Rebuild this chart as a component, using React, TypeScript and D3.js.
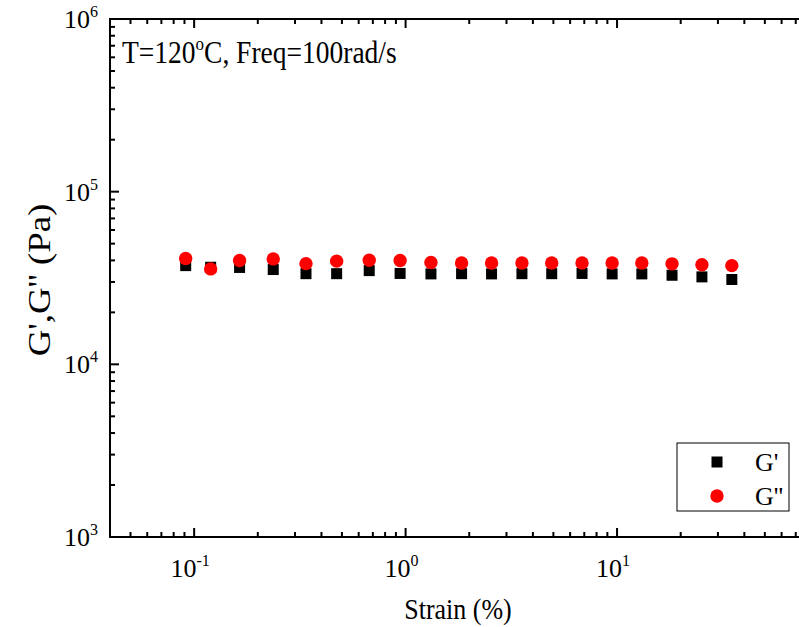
import React from "react";
import * as d3 from "d3";

const strain = [0.0912, 0.1197, 0.164, 0.2366, 0.338, 0.472, 0.673, 0.942, 1.318, 1.84, 2.55, 3.55, 4.91, 6.83, 9.48, 13.1, 18.2, 25.2, 34.9];
const gPrime = [37300, 36500, 36400, 35400, 33500, 33500, 34900, 33600, 33400, 33500, 33400, 33500, 33500, 33600, 33400, 33400, 32800, 32100, 31000];
const gDouble = [41000, 35700, 39900, 40800, 38300, 39600, 40100, 39900, 38900, 38600, 38600, 38600, 38600, 38600, 38600, 38600, 38200, 37700, 37300];
const xMajor = [0.1, 1, 10];
const xExp = ["-1", "0", "1"];
const yMajor = [1e3, 1e4, 1e5, 1e6];
const yExp = ["3", "4", "5", "6"];
const seriesNames = ["G'", "G''"];

const W = 799, H = 627;
const L = 110, T = 19, R = 808, B = 537;
const FONT = "Liberation Serif";
const ts = { fontFamily: FONT };
const STRETCH = 1.15;

export default function App() {
  const x = d3.scaleLog().domain([0.04, 80]).range([L, R]);
  const y = d3.scaleLog().domain([1e3, 1e6]).range([B, T]);
  const isMajor = (v: number, arr: number[]) => arr.some((m) => Math.abs(v / m - 1) < 1e-6);
  const xMinor = x.ticks().filter((v) => !isMajor(v, xMajor));
  const yMinor = y.ticks().filter((v) => !isMajor(v, yMajor));
  const MAJ = 9, MIN = 5, SQ = 11, CR = 6.7;

  return (
    <svg width={W} height={H} style={{ position: "absolute", left: 0, top: 0, background: "#fff" }}>
      <rect x={0} y={0} width={W} height={H} fill="#fff" />
      <rect x={L} y={T} width={R - L} height={B - T} fill="none" stroke="#000" strokeWidth={2} />
      {xMajor.map((v, i) => (
        <g key={"xm" + i}>
          <line x1={x(v)} x2={x(v)} y1={B} y2={B - MAJ} stroke="#000" strokeWidth={2} />
          <line x1={x(v)} x2={x(v)} y1={T} y2={T + MAJ} stroke="#000" strokeWidth={2} />
          <text x={x(v) - 4} y={B + 40} fontSize={26} textAnchor="middle" style={ts}>
            10
            <tspan fontSize={16} dy={-11}>{xExp[i]}</tspan>
          </text>
        </g>
      ))}
      {xMinor.map((v, i) => (
        <g key={"xn" + i}>
          <line x1={x(v)} x2={x(v)} y1={B} y2={B - MIN} stroke="#000" strokeWidth={2} />
          <line x1={x(v)} x2={x(v)} y1={T} y2={T + MIN} stroke="#000" strokeWidth={2} />
        </g>
      ))}
      {yMajor.map((v, i) => (
        <g key={"ym" + i}>
          <line x1={L} x2={L + MAJ} y1={y(v)} y2={y(v)} stroke="#000" strokeWidth={2} />
          <line x1={R} x2={R - MAJ} y1={y(v)} y2={y(v)} stroke="#000" strokeWidth={2} />
          <text x={98} y={y(v) + 9} fontSize={26} textAnchor="end" style={ts}>
            10
            <tspan fontSize={16} dy={-11}>{yExp[i]}</tspan>
          </text>
        </g>
      ))}
      {yMinor.map((v, i) => (
        <g key={"yn" + i}>
          <line x1={L} x2={L + MIN} y1={y(v)} y2={y(v)} stroke="#000" strokeWidth={2} />
          <line x1={R} x2={R - MIN} y1={y(v)} y2={y(v)} stroke="#000" strokeWidth={2} />
        </g>
      ))}
      {strain.map((s, i) => (
        <rect key={"sq" + i} x={x(s) - SQ / 2} y={y(gPrime[i]) - SQ / 2} width={SQ} height={SQ} fill="#000" />
      ))}
      {strain.map((s, i) => (
        <circle key={"c" + i} cx={x(s)} cy={y(gDouble[i])} r={CR} fill="#ff0000" />
      ))}
      <text transform={`translate(122, 63) scale(1, ${STRETCH})`} x={0} y={0} fontSize={27.5} style={ts}>
        T=120<tspan fontSize={17} dy={-11}>o</tspan>
        <tspan dy={11}>C, Freq=100rad/s</tspan>
      </text>
      <text transform={`translate(458, 619) scale(1, ${STRETCH})`} x={0} y={0} fontSize={26} textAnchor="middle" style={ts}>Strain (%)</text>
      <text transform={`translate(50, 280) scale(1, ${STRETCH}) rotate(-90)`} x={0} y={0} fontSize={32} textAnchor="middle" style={ts}>G',G'' (Pa)</text>
      <rect x={677} y={443} width={112} height={68} fill="#fff" stroke="#000" strokeWidth={1} />
      <rect x={717 - SQ / 2} y={462 - SQ / 2} width={SQ} height={SQ} fill="#000" />
      <circle cx={717} cy={496} r={CR} fill="#ff0000" />
      <text x={755} y={471} fontSize={26} style={ts}>{seriesNames[0]}</text>
      <text x={755} y={505} fontSize={26} style={ts}>{seriesNames[1]}</text>
    </svg>
  );
}
